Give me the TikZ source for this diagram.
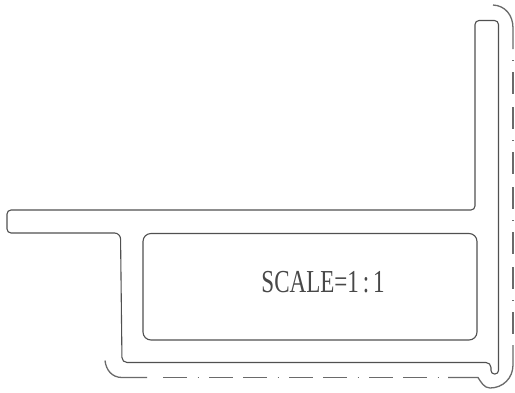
\documentclass[tikz,border=0pt]{standalone}
\usepackage{fontspec}
\setmainfont{Liberation Serif}
\definecolor{inkline}{HTML}{505050}
\tikzset{
  section/.style={draw=inkline,line width=1.1pt,line join=round},
  chainv/.style={draw=inkline!85,line width=1.3pt,dash pattern=on 1pt off 11pt on 22pt off 13pt on 22pt off 11pt},
  chainh/.style={draw=inkline!85,line width=1.3pt,dash pattern=on 24pt off 10.5pt on 1pt off 10.5pt on 24pt off 10pt},
  plain/.style={draw=inkline!85,line width=1.3pt},
  label/.style={inner sep=0pt,text=inkline!90!black,font=\fontsize{32}{32}\selectfont,xscale=0.72}
}
\begin{document}
\begin{tikzpicture}[x=1pt,y=-1pt]
\useasboundingbox[fill=white] (0,0) rectangle (515,392);
% outer contour
\path[section,rounded corners=4pt] (485,20.5) -- (498.5,20.5)
  [rounded corners=3.5pt] -- (498.5,374) -- (491,374) [rounded corners=5pt] -- (491,362.5) -- (122,362.5)
  [rounded corners=6pt] -- (120.5,233) [rounded corners=4pt] -- (7,233) -- (7,210) -- (475,210)
  -- (475,20.5) -- cycle;
% inner rectangle
\path[section,rounded corners=8pt] (300,233.5) -- (477,233.5) -- (477,340) -- (143,340) -- (143,233.5) -- cycle;
% chain outline
\path[plain] (493,5) .. controls (505,5.5) and (513,15) .. (513,28) -- (513,49);
\path[chainv] (513,60) -- (513,334);
\path[plain] (513,345) -- (513,365) .. controls (513,378) and (503,388) .. (490,388) .. controls (484,388) and (481,382) .. (478,377.5) -- (448,377.5);
\path[chainh] (163,377.5) -- (438,377.5);
\path[plain] (147,377.5) -- (122,377.5) .. controls (112,377.5) and (106,370) .. (105,360.5);
\node[label] (scale) at (323,282) {SCALE=1\,:\,1};
\end{tikzpicture}
\end{document}
